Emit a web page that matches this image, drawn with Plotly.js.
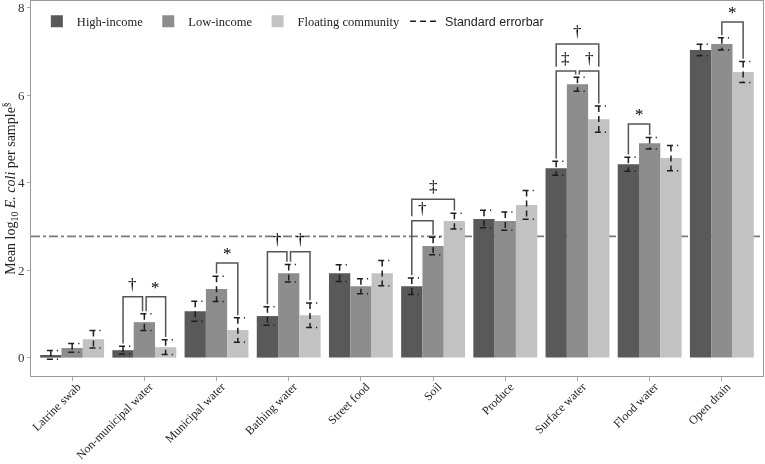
<!DOCTYPE html>
<html>
<head>
<meta charset="utf-8">
<script src="https://cdn.plot.ly/plotly-3.0.1.min.js"></script>
<style>html,body{margin:0;padding:0;background:#fff;}#chart{width:765px;height:464px;}
.main-svg{ will-change:transform; }
</style>
</head>
<body>
<div id="chart"></div>
<script>
// ---- data ----
const categories = ['Latrine swab','Non-municipal water','Municipal water','Bathing water','Street food','Soil','Produce','Surface water','Flood water','Open drain'];
const seriesNames = ['High-income','Low-income','Floating community'];
const highIncome = [0.06,0.17,1.06,0.95,1.93,1.63,3.17,4.33,4.42,7.03];
const lowIncome  = [0.22,0.81,1.57,1.93,1.63,2.55,3.12,6.25,4.90,7.17];
const floating   = [0.42,0.24,0.63,0.97,1.93,3.12,3.49,5.45,4.56,6.53];
const highSE  = [0.10,0.09,0.23,0.21,0.19,0.19,0.20,0.16,0.16,0.13];
const lowSE   = [0.10,0.19,0.29,0.20,0.17,0.20,0.21,0.16,0.13,0.14];
const floatSE = [0.20,0.17,0.28,0.28,0.29,0.18,0.33,0.30,0.29,0.24];
const referenceLevel = 2.77;
const yTicks = [0,2,4,6,8];
// significance brackets: [category index, from series, to series, symbol, bracket level]
const brackets = [
  [1,0,1,'†',1.39],[1,1,2,'*',1.39],
  [2,1,2,'*',2.16],
  [3,0,1,'†',2.42],[3,1,2,'†',2.42],
  [5,0,1,'†',3.13],[5,0,2,'‡',3.62],
  [7,0,1,'‡',6.55],[7,1,2,'†',6.55],[7,0,2,'†',7.17],
  [8,0,1,'*',5.34],
  [9,1,2,'*',7.67]
];

// ---- styles ----
const colors = ['#595959','#8d8d8d','#c2c2c2'];
const serif = "'Liberation Serif','Times New Roman',serif";
const sans = "'Liberation Sans',Arial,sans-serif";
const bargap = 0.115;
const barStep = (1 - bargap) / 3;

const values = [highIncome, lowIncome, floating];
const errs = [highSE, lowSE, floatSE];
const xIdx = categories.map((c,i)=>i);

const traces = values.map((v,j)=>({
  type:'bar', x:xIdx, y:v, name:seriesNames[j],
  marker:{color:colors[j], line:{width:0}}, hoverinfo:'skip'
}));

// dashed error bars (built from values + SE)
const capL = 0.055, capR = 0.1;
const ex = [], ey = [];
values.forEach((v,j)=>{
  v.forEach((val,i)=>{
    const cx = i + (j-1)*barStep;
    const top = val + errs[j][i], bot = val - errs[j][i];
    ex.push(cx-capL, cx+capR, null, cx, cx, null, cx-capL, cx+capR, null);
    ey.push(top, top, null, top, bot, null, bot, bot, null);
  });
});
traces.push({
  type:'scatter', mode:'lines', x:ex, y:ey, connectgaps:false,
  line:{color:'#1e1e1e', width:1.5, dash:'6px,4px'},
  name:'<span style="font-family:'+sans.replace(/'/g,'')+'">Standard errorbar</span>',
  hoverinfo:'skip'
});

// brackets
const shapes = [{
  type:'line', xref:'paper', x0:0, x1:1, yref:'y', y0:referenceLevel, y1:referenceLevel,
  line:{color:'#7a7a7a', width:1.6, dash:'dashdot'}, layer:'below'
}];
const annotations = [];
const gap = 0.06;
brackets.forEach((b)=>{
  const [ci,a,bb,sym,lvl] = b;
  let xa = ci + (a-1)*barStep, xb = ci + (bb-1)*barStep;
  brackets.forEach(o=>{
    if (o===b || o[0]!==ci || o[4]!==lvl) return;
    if (o[2]===a) xa += 0.025;
    if (o[1]===bb) xb -= 0.025;
  });
  function legBottom(j){
    let bottom = values[j][ci] + errs[j][ci] + gap;
    brackets.forEach(o=>{
      if (o===b || o[0]!==ci || o[4]>=lvl) return;
      if (o[1]===j || o[2]===j) bottom = Math.max(bottom, o[4] + 0.1);
    });
    return bottom;
  }
  const ya = legBottom(a), yb = legBottom(bb);
  shapes.push({
    type:'path', xref:'x', yref:'y',
    path:`M ${xa},${ya} L ${xa},${lvl} L ${xb},${lvl} L ${xb},${yb}`,
    line:{color:'#555', width:1.5}
  });
  annotations.push({
    x:(xa+xb)/2, y:lvl, xref:'x', yref:'y', text:sym, showarrow:false,
    yanchor:'bottom', yshift:sym==='*'?-2:1,
    font:{family:serif, size:17, color:'#000'}
  });
});

const layout = {
  width:765, height:464,
  margin:{l:31, r:2, t:1, b:88},
  paper_bgcolor:'#fff', plot_bgcolor:'#fff',
  barmode:'group', bargap:bargap, bargroupgap:0,
  font:{family:serif, size:13, color:'#333'},
  showlegend:true,
  legend:{orientation:'h', x:0.008, y:0.985, xanchor:'left', yanchor:'top',
          bgcolor:'rgba(0,0,0,0)', font:{family:serif, size:12.5, color:'#222'},
          traceorder:'normal', itemwidth:30},
  xaxis:{
    type:'linear', range:[-0.57, 9.57], tickvals:xIdx, ticktext:categories,
    tickangle:-45, ticks:'outside', ticklen:4, tickcolor:'#aaa',
    ticklabelstandoff:-6, ticklabelshift:5,
    showline:true, mirror:true, linecolor:'#999', linewidth:1,
    showgrid:false, zeroline:false,
    tickfont:{family:serif, size:12, color:'#222'}
  },
  yaxis:{
    range:[-0.42, 8.15], tickvals:yTicks, ticktext:yTicks.map(String),
    ticks:'outside', ticklen:3, tickcolor:'#aaa',
    showline:true, mirror:true, linecolor:'#999', linewidth:1,
    showgrid:false, zeroline:false,
    tickfont:{family:serif, size:13, color:'#333'},
    title:{text:'Mean log<sub>10</sub> <i>E. coli</i> per sample<sup>§</sup>',
           font:{family:serif, size:14, color:'#222'}, standoff:4}
  },
  shapes:shapes, annotations:annotations
};

Plotly.newPlot('chart', traces, layout, {displayModeBar:false, staticPlot:true});
</script>
</body>
</html>
